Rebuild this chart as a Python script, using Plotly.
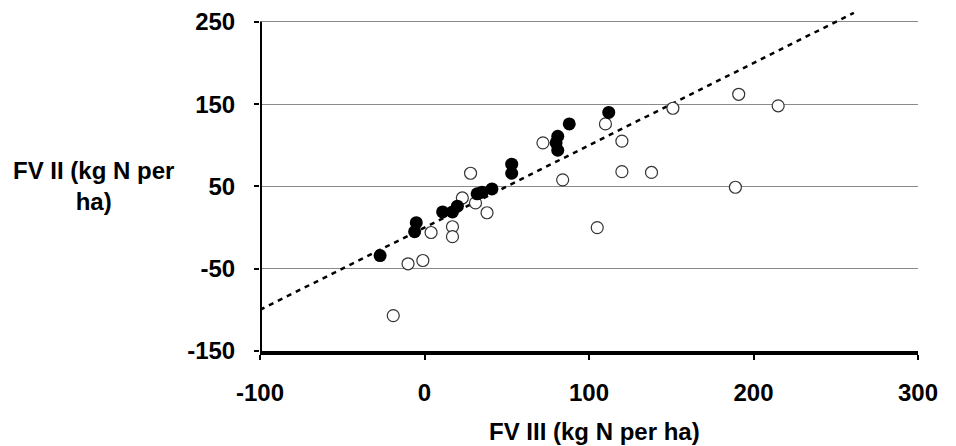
import plotly.graph_objects as go

# Filled circles
filled_x = [-27, -5, -6, 11, 17, 20, 32, 35, 41, 53, 53, 81, 80, 81, 88, 112]
filled_y = [-34, 6, -5, 19, 19, 26, 41, 43, 47, 77, 66, 111, 103, 94, 126, 140]

# Open circles
open_x = [-19, -10, -1, 4, 17, 17, 23, 31, 38, 28, 72, 110, 120, 120, 84, 105, 138, 151, 191, 215, 189]
open_y = [-107, -44, -40, -6, 1, -11, 36, 30, 18, 66, 103, 126, 105, 68, 58, 0, 67, 145, 162, 148, 49]

# 1:1 line
line_x = [-100, 261]
line_y = [-100, 261]

x_ticks = [-100, 0, 100, 200, 300]
y_ticks = [-150, -50, 50, 150, 250]

FONT = "Liberation Sans, Arial, Helvetica, sans-serif"

W, H = 956, 446
L, R, T, B = 260, 38, 12, 95
PW, PH = W - L - R, H - T - B

fig = go.Figure()
fig.add_trace(go.Scatter(x=line_x, y=line_y, mode="lines",
                         line=dict(color="black", width=2.5, dash="5px,5px"),
                         hoverinfo="skip", showlegend=False))
fig.add_trace(go.Scatter(x=open_x, y=open_y, mode="markers",
                         marker=dict(symbol="circle", size=12, color="white",
                                     line=dict(color="#333333", width=1.2)),
                         showlegend=False, cliponaxis=False))
fig.add_trace(go.Scatter(x=filled_x, y=filled_y, mode="markers",
                         marker=dict(symbol="circle", size=13, color="black",
                                     line=dict(color="black", width=0)),
                         showlegend=False, cliponaxis=False))

# y-axis line drawn only from -150 to 250
fig.add_shape(type="line", xref="x", yref="y", x0=-100, x1=-100, y0=-150, y1=250,
              line=dict(color="black", width=4), layer="above")

fig.add_annotation(text="FV II (kg N per<br>ha)", xref="paper", yref="y",
                   x=(93 - L) / PW, y=50, xanchor="center", yanchor="middle",
                   showarrow=False, align="center",
                   font=dict(family=FONT, size=24, color="black", weight="bold"))
fig.add_annotation(text="FV III (kg N per ha)", xref="paper", yref="paper",
                   x=(594 - L) / PW, y=-(431 - (T + PH)) / PH, xanchor="center", yanchor="middle",
                   showarrow=False,
                   font=dict(family=FONT, size=24, color="black", weight="bold"))

fig.update_layout(
    width=W, height=H,
    margin=dict(l=L, r=R, t=T, b=B, autoexpand=False),
    paper_bgcolor="white", plot_bgcolor="white",
    font=dict(family=FONT, color="black"),
    xaxis=dict(range=[-100, 300], tickvals=x_ticks, ticktext=[str(v) for v in x_ticks],
               automargin=False,
               showgrid=False, zeroline=False, showline=True, linecolor="black", linewidth=4,
               ticks="outside", ticklen=5, tickwidth=2, tickcolor="black",
               ticklabelstandoff=12,
               tickfont=dict(family=FONT, size=24, color="black", weight="bold")),
    yaxis=dict(range=[-150, 262], tickvals=y_ticks, ticktext=[str(v) for v in y_ticks],
               automargin=False,
               showgrid=True, gridcolor="#8a8a8a", gridwidth=1,
               zeroline=False, showline=False,
               ticks="outside", ticklen=5, tickwidth=2, tickcolor="black",
               ticklabelstandoff=14,
               tickfont=dict(family=FONT, size=24, color="black", weight="bold")),
)

fig.write_html("out.html", config={"displayModeBar": False},
               post_script="document.body.style.margin='0';document.body.style.overflow='hidden';")
